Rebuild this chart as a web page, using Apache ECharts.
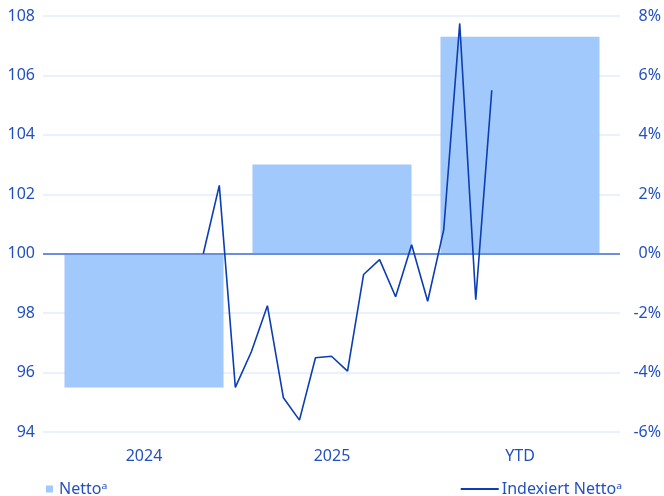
<!DOCTYPE html>
<html>
<head>
<meta charset="utf-8">
<script src="https://cdn.jsdelivr.net/npm/echarts@6/dist/echarts.min.js"></script>
<style>html,body{margin:0;padding:0;background:#fff}#c{width:664px;height:496px}</style>
</head>
<body>
<div id="c"></div>
<script>
// Bar categories and values (percent change)
var barCategories = ['2024', '2025', 'YTD'];
var nettoPct = [-4.5, 3.0, 7.3];

// Monthly index positions for the line (hidden axis)
var months = ['2024-01','2024-02','2024-03','2024-04','2024-05','2024-06','2024-07','2024-08','2024-09','2024-10','2024-11','2024-12',
              '2025-01','2025-02','2025-03','2025-04','2025-05','2025-06','2025-07','2025-08','2025-09','2025-10','2025-11','2025-12',
              '2026-01','2026-02','2026-03','2026-04','2026-05','2026-06','2026-07','2026-08','2026-09','2026-10','2026-11','2026-12','2027-01'];
var indexiertNetto = [null,null,null,null,null,null,null,null,null,null,
  100.0, 102.3, 95.5, 96.7, 98.25, 95.15, 94.4, 96.5, 96.55, 96.05,
  99.3, 99.8, 98.55, 100.3, 98.4, 100.8, 107.75, 98.45, 105.5,
  null,null,null,null,null,null,null,null];

// Axis ticks
var leftTicks = {min: 94, max: 108, interval: 2};
var rightTicks = {min: -6, max: 8, interval: 2};

var textBlue = '#2350c0';
var lineBlue = '#0b3db3';
var barBlue = '#a2c9fb';
var gridLight = '#e0ecfc';
var font = 'Noto Sans';

var chart = echarts.init(document.getElementById('c'), null, {renderer: 'canvas'});
chart.setOption({
  animation: false,
  textStyle: {fontFamily: font},
  grid: [
    {left: 43, right: 43, top: 16, bottom: 64},
    {left: 50, right: 50, top: 16, bottom: 64}
  ],
  legend: [
    {
      data: [{name: 'Nettoᵃ', icon: 'rect'}],
      left: 41, top: 476,
      itemWidth: 7, itemHeight: 7, itemGap: 10,
      textStyle: {color: textBlue, fontSize: 16, fontFamily: font, padding: [0, 0, 0, 1]}
    },
    {
      data: [{name: 'Indexiert Nettoᵃ', icon: 'rect'}],
      right: 37, top: 476,
      itemWidth: 38, itemHeight: 2,
      textStyle: {color: textBlue, fontSize: 16, fontFamily: font, padding: [0, 0, 0, -2]}
    }
  ],
  xAxis: [
    {
      type: 'category', gridIndex: 0, data: months, boundaryGap: false,
      show: false
    },
    {
      type: 'category', gridIndex: 1, data: barCategories,
      axisLine: {show: false}, axisTick: {show: false},
      axisLabel: {color: textBlue, fontSize: 16, margin: 16, fontFamily: font}
    }
  ],
  yAxis: [
    {
      type: 'value', gridIndex: 0, position: 'left',
      min: leftTicks.min, max: leftTicks.max, interval: leftTicks.interval,
      axisLine: {show: false}, axisTick: {show: false},
      axisLabel: {color: textBlue, fontSize: 16, margin: 8, fontFamily: font},
      splitLine: {show: true, lineStyle: {color: gridLight, width: 1.5}}
    },
    {
      type: 'value', gridIndex: 0, position: 'right',
      min: rightTicks.min, max: rightTicks.max, interval: rightTicks.interval,
      axisLine: {show: false}, axisTick: {show: false},
      axisLabel: {color: textBlue, fontSize: 16, margin: 41, align: 'right', fontFamily: font,
        formatter: function (v) { return v + '%'; }},
      splitLine: {show: false}
    },
    {
      type: 'value', gridIndex: 1,
      min: rightTicks.min, max: rightTicks.max, interval: rightTicks.interval,
      show: false, splitLine: {show: false}
    }
  ],
  series: [
    {
      name: 'Nettoᵃ', type: 'bar', xAxisIndex: 1, yAxisIndex: 2,
      data: nettoPct, barWidth: '84.6%',
      itemStyle: {color: barBlue},
      z: 1
    },
    {
      name: 'Indexiert Nettoᵃ', type: 'line', xAxisIndex: 0, yAxisIndex: 0,
      data: indexiertNetto, symbol: 'none', connectNulls: false,
      lineStyle: {color: lineBlue, width: 1.6},
      itemStyle: {color: lineBlue},
      z: 5,
      markLine: {
        silent: true, symbol: 'none', label: {show: false},
        lineStyle: {color: '#6a8fdc', width: 2, type: 'solid'},
        data: [{yAxis: 100}],
        z: 3
      }
    }
  ]
});
</script>
</body>
</html>
